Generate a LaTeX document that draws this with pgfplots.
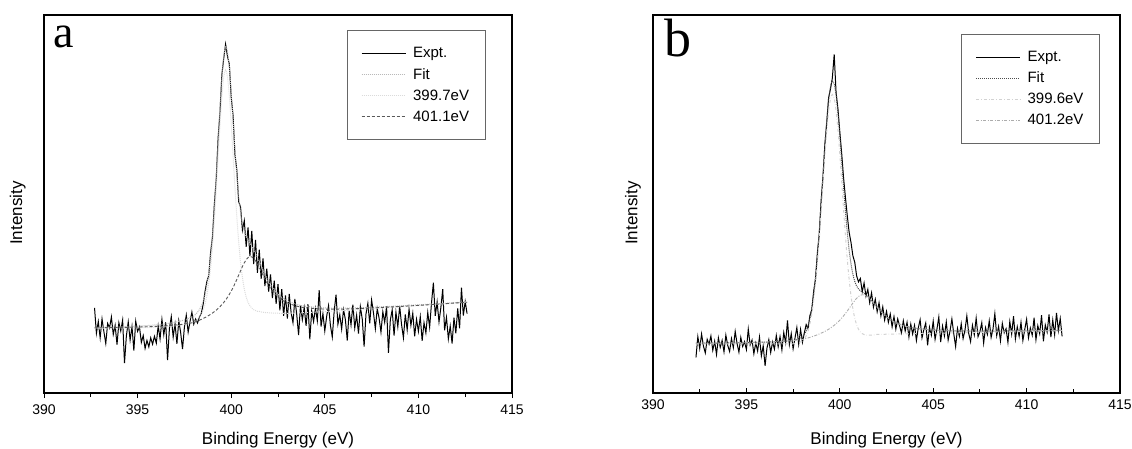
\documentclass[border=0pt]{standalone}
\usepackage{pgfplots}
\usepackage{pgfplotstable}
\pgfplotsset{compat=1.18}
\usepackage{fontspec}
\setmainfont{Liberation Sans}
\newfontfamily\letterfont{Liberation Serif}

% fitted curves, panel a: E, total fit, 399.7 eV component, 401.1 eV component
\pgfplotstableread{
E fit c1 c2
392.7 17.35 17.11 17.24
394.0 17.50 17.17 17.33
395.0 17.70 17.25 17.45
396.0 18.03 17.40 17.63
397.0 18.70 17.73 17.97
397.5 19.33 18.08 18.25
398.0 20.35 18.70 18.65
398.1 20.84 19.09 18.84
398.2 21.34 19.47 19.04
398.3 22.05 20.06 19.25
398.4 22.97 20.84 19.47
398.5 24.21 21.93 19.71
398.6 25.95 23.51 19.95
398.7 28.42 25.80 20.22
398.8 31.82 28.99 20.52
398.9 36.22 33.17 20.82
399.0 42.06 38.76 21.16
399.1 49.22 45.64 21.52
399.2 57.52 53.63 21.92
399.3 66.45 62.21 22.35
399.4 75.43 70.80 22.83
399.5 83.37 78.29 23.37
399.6 89.04 83.47 23.94
399.7 91.59 85.46 24.59
399.8 90.40 83.64 25.30
399.9 86.10 78.63 26.10
400.0 79.56 71.31 26.96
400.1 72.02 62.90 27.92
400.2 64.55 54.49 28.95
400.3 57.74 46.67 30.04
400.4 52.09 39.96 31.19
400.5 47.74 34.54 32.34
400.6 44.75 30.53 33.45
400.7 42.65 27.51 34.45
400.8 41.27 25.40 35.27
400.9 40.33 23.99 35.83
401.0 39.57 23.07 36.07
401.1 38.80 22.46 36.00
401.2 37.91 22.04 35.61
401.3 36.97 21.83 34.97
401.4 35.83 21.61 34.13
401.5 34.80 21.60 33.20
401.6 33.57 21.44 32.17
401.7 32.44 21.37 31.14
401.8 31.37 21.31 30.17
401.9 30.36 21.24 29.26
402.0 29.48 21.23 28.43
402.2 27.91 21.15 27.01
402.4 26.69 21.12 25.89
402.6 25.72 21.09 25.02
402.8 24.95 21.06 24.35
403.0 24.38 21.08 23.83
403.5 23.43 21.15 22.98
404.0 22.93 21.28 22.53
405.0 22.50 21.53 22.20
406.0 22.46 21.83 22.21
407.0 22.58 22.13 22.38
408.0 22.81 22.48 22.61
409.0 23.04 22.78 22.89
410.0 23.33 23.13 23.18
411.0 23.60 23.43 23.50
412.6 24.11 23.99 24.01
}\fita

% fitted curves, panel b: E, total fit, 399.6 eV component, 401.2 eV component
\pgfplotstableread{
E fit c1 c2
392.3 13.17 13.00 13.17
394.0 13.25 13.00 13.25
396.0 13.47 13.00 13.47
397.0 13.71 13.00 13.71
397.5 13.89 13.00 13.89
398.0 14.86 13.70 14.16
398.1 15.49 14.26 14.29
398.2 16.43 15.13 14.43
398.3 17.82 16.44 14.57
398.4 19.79 18.32 14.72
398.5 22.48 20.91 14.88
398.6 26.10 24.43 15.05
398.7 30.69 28.91 15.22
398.8 36.28 34.37 15.41
398.9 42.85 40.80 15.61
399.0 50.15 47.95 15.83
399.1 57.79 55.42 16.06
399.2 65.25 62.70 16.30
399.3 71.95 69.19 16.57
399.4 77.45 74.46 16.87
399.5 81.01 77.77 17.18
399.6 82.53 79.00 17.53
399.7 81.74 77.89 17.91
399.8 78.91 74.71 18.33
399.9 74.15 69.57 18.77
400.0 68.22 63.20 19.27
400.1 61.54 56.04 19.81
400.2 54.72 48.70 20.40
400.3 48.27 41.68 21.03
400.4 42.56 35.37 21.69
400.5 37.86 30.03 22.39
400.6 34.16 25.68 23.11
400.7 31.40 22.29 23.80
400.8 29.54 19.82 24.47
400.9 28.30 18.06 25.05
401.0 27.53 16.88 25.53
401.1 27.05 16.14 25.85
401.2 26.70 15.70 26.00
401.3 26.36 15.45 25.97
401.4 25.99 15.34 25.78
401.5 25.53 15.29 25.43
401.6 25.02 15.30 24.97
401.7 24.42 15.31 24.42
401.8 23.86 15.38 23.86
401.9 23.27 15.44 23.27
402.0 22.69 15.50 22.69
402.2 21.54 15.52 21.54
402.4 20.56 15.54 20.56
402.6 19.76 15.56 19.76
402.8 19.11 15.58 19.11
403.0 18.59 15.60 18.59
403.5 17.70 15.65 17.70
404.0 17.17 15.70 17.17
405.0 16.65 15.80 16.65
406.0 16.45 15.90 16.45
408.0 16.38 16.10 16.38
410.0 16.47 16.30 16.47
411.9 16.61 16.49 16.61
}\fitb

\pgfplotsset{
  xps/.style={
    scale only axis, width=468pt, height=378pt,
    xmin=390, xmax=415, ymin=0, ymax=100,
    xtick={390,395,...,415}, minor x tick num=1,
    ytick=\empty, xtick pos=bottom,
    axis line style={line width=1.3pt},
    major tick length=5pt, minor tick length=4pt,
    every tick/.style={black, line width=1pt},
    /pgf/number format/assume math mode=true,
    xticklabel style={font=\fontsize{14}{16}\selectfont, yshift=-3pt},
    xlabel={Binding Energy (eV)},
    ylabel={Intensity},
    label style={font=\fontsize{17}{19}\selectfont},
    xlabel style={at={(axis description cs:0.5,-0.124)}, anchor=center},
    legend cell align=left,
    legend image code/.code={\draw[##1] (0pt,0pt) -- (44pt,0pt);},
    legend style={font=\fontsize{15}{17}\selectfont, draw=black!60,
      line width=0.7pt, anchor=north west, inner xsep=14pt, inner ysep=15pt,
      row sep=5pt, /tikz/every odd column/.append style={column sep=5pt}},
  },
}

\begin{document}
\begin{tikzpicture}
\useasboundingbox (0,0) rectangle (1132pt,448pt);

% ---- panel a ----
\begin{axis}[xps, at={(44pt,55pt)}, anchor=south west,
  tick align=outside,
  ylabel style={at={(axis description cs:-0.056,0.476)}, anchor=center},
  legend style={at={(0.647,0.960)}},
]
\addplot[black, line width=1pt] table[row sep=\\] {x y\\
392.7 22.5\\ 392.8 15.8\\ 392.9 18.9\\ 393.0 14.6\\ 393.1 19.6\\ 393.2 16.2\\ 393.3 13.1\\ 393.4 18.4\\ 393.5 17.2\\ 393.6 20.1\\
393.7 15.5\\ 393.8 17.9\\ 393.9 12.8\\ 394.0 18.6\\ 394.1 16.4\\ 394.2 19.3\\ 394.3 7.9\\ 394.4 15.1\\ 394.5 18.8\\ 394.6 14.0\\
394.7 17.6\\ 394.8 11.2\\ 394.9 19.0\\ 395.0 16.3\\ 395.1 17.5\\ 395.2 13.4\\ 395.3 15.2\\ 395.4 11.8\\ 395.5 13.9\\ 395.6 12.2\\
395.7 14.6\\ 395.8 12.9\\ 395.9 15.0\\ 396.0 13.2\\ 396.1 17.8\\ 396.2 14.3\\ 396.3 19.5\\ 396.4 15.4\\ 396.5 18.7\\ 396.6 8.7\\
396.7 17.1\\ 396.8 20.2\\ 396.9 14.8\\ 397.0 18.3\\ 397.1 13.0\\ 397.2 19.1\\ 397.3 16.0\\ 397.4 11.6\\ 397.5 17.4\\ 397.6 20.6\\
397.7 16.1\\ 397.8 18.9\\ 397.9 21.4\\ 398.0 18.2\\ 398.1 19.6\\ 398.2 18.5\\ 398.3 20.1\\ 398.4 21.0\\ 398.5 23.4\\ 398.6 26.8\\
398.7 29.5\\ 398.8 31.0\\ 398.9 37.2\\ 399.0 41.3\\ 399.1 49.9\\ 399.2 56.6\\ 399.3 67.4\\ 399.4 74.2\\ 399.5 84.1\\ 399.6 88.5\\
399.7 92.3\\ 399.8 89.1\\ 399.9 87.0\\ 400.0 78.3\\ 400.1 73.4\\ 400.2 63.1\\ 400.3 59.0\\ 400.4 50.6\\ 400.5 49.2\\ 400.6 43.1\\
400.7 45.6\\ 400.8 38.7\\ 400.9 43.8\\ 401.0 36.2\\ 401.1 42.9\\ 401.2 34.1\\ 401.3 40.5\\ 401.4 31.8\\ 401.5 37.9\\ 401.6 30.2\\
401.7 35.6\\ 401.8 28.3\\ 401.9 32.9\\ 402.0 26.8\\ 402.1 31.4\\ 402.2 25.1\\ 402.3 29.7\\ 402.4 23.6\\ 402.5 28.8\\ 402.6 21.9\\
402.7 27.5\\ 402.8 20.4\\ 402.9 25.8\\ 403.0 19.7\\ 403.1 26.2\\ 403.2 21.3\\ 403.3 18.6\\ 403.4 24.9\\ 403.5 20.8\\ 403.6 15.3\\
403.7 23.1\\ 403.8 19.4\\ 403.9 22.6\\ 404.0 17.8\\ 404.1 23.5\\ 404.2 14.2\\ 404.3 21.7\\ 404.4 18.9\\ 404.5 22.4\\ 404.6 19.1\\
404.7 27.2\\ 404.8 17.6\\ 404.9 21.0\\ 405.0 16.4\\ 405.1 20.3\\ 405.2 23.1\\ 405.3 17.9\\ 405.4 14.8\\ 405.5 21.6\\ 405.6 26.0\\
405.7 18.2\\ 405.8 20.7\\ 405.9 16.9\\ 406.0 22.1\\ 406.1 19.4\\ 406.2 13.9\\ 406.3 21.8\\ 406.4 18.0\\ 406.5 23.4\\ 406.6 17.2\\
406.7 20.6\\ 406.8 15.7\\ 406.9 22.8\\ 407.0 19.6\\ 407.1 12.3\\ 407.2 20.9\\ 407.3 23.7\\ 407.4 18.4\\ 407.5 24.6\\ 407.6 21.2\\
407.7 17.0\\ 407.8 22.3\\ 407.9 19.8\\ 408.0 16.1\\ 408.1 21.5\\ 408.2 18.7\\ 408.3 22.9\\ 408.4 10.6\\ 408.5 19.3\\ 408.6 22.0\\
408.7 15.2\\ 408.8 21.4\\ 408.9 17.5\\ 409.0 23.0\\ 409.1 18.1\\ 409.2 14.6\\ 409.3 20.8\\ 409.4 16.7\\ 409.5 22.2\\ 409.6 17.9\\
409.7 21.1\\ 409.8 15.0\\ 409.9 19.5\\ 410.0 16.3\\ 410.1 20.2\\ 410.2 13.8\\ 410.3 18.6\\ 410.4 15.9\\ 410.5 21.3\\ 410.6 17.4\\
410.7 23.8\\ 410.8 29.2\\ 410.9 20.4\\ 411.0 24.1\\ 411.1 18.8\\ 411.2 22.6\\ 411.3 27.5\\ 411.4 16.6\\ 411.5 20.0\\ 411.6 14.3\\
411.7 17.7\\ 411.8 13.1\\ 411.9 19.9\\ 412.0 15.8\\ 412.1 22.4\\ 412.2 17.1\\ 412.3 27.9\\ 412.4 20.5\\ 412.5 24.2\\ 412.6 21.0\\
};
\addlegendentry{Expt.}
\addplot[gray!55, densely dotted, line width=1pt, smooth] table[x=E, y=fit] {\fita};
\addlegendentry{Fit}
\addplot[gray!28, densely dotted, line width=1pt, smooth] table[x=E, y=c1] {\fita};
\addlegendentry{399.7eV}
\addplot[black!65, dash pattern=on 3pt off 2pt, line width=0.9pt, smooth] table[x=E, y=c2] {\fita};
\addlegendentry{401.1eV}
\node[anchor=base west, inner sep=0pt, font=\letterfont\fontsize{46}{46}\selectfont]
  at (rel axis cs:0.019,0.913) {a};
\end{axis}

% ---- panel b ----
\begin{axis}[xps, at={(653pt,55pt)}, anchor=south west, width=467pt,
  tick align=inside,
  ylabel style={at={(axis description cs:-0.043,0.476)}, anchor=center},
  legend style={at={(0.66,0.950)}},
]
\addplot[black, line width=1pt] table[row sep=\\] {x y\\
392.3 9.4\\ 392.4 14.9\\ 392.5 11.8\\ 392.6 15.6\\ 392.7 12.4\\ 392.8 10.6\\ 392.9 14.2\\ 393.0 12.9\\ 393.1 15.1\\ 393.2 11.3\\
393.3 13.7\\ 393.4 10.2\\ 393.5 14.6\\ 393.6 12.1\\ 393.7 13.9\\ 393.8 10.9\\ 393.9 15.3\\ 394.0 12.6\\ 394.1 11.0\\ 394.2 14.4\\
394.3 12.0\\ 394.4 16.3\\ 394.5 13.1\\ 394.6 10.8\\ 394.7 14.7\\ 394.8 12.3\\ 394.9 13.6\\ 395.0 11.5\\ 395.1 16.9\\ 395.2 12.7\\
395.3 14.0\\ 395.4 10.4\\ 395.5 13.2\\ 395.6 11.1\\ 395.7 14.8\\ 395.8 9.8\\ 395.9 12.5\\ 396.0 7.2\\ 396.1 11.9\\ 396.2 14.1\\
396.3 10.7\\ 396.4 13.5\\ 396.5 11.6\\ 396.6 15.2\\ 396.7 12.2\\ 396.8 14.9\\ 396.9 11.4\\ 397.0 16.0\\ 397.1 13.3\\ 397.2 19.2\\
397.3 12.8\\ 397.4 15.7\\ 397.5 11.7\\ 397.6 14.5\\ 397.7 17.3\\ 397.8 12.9\\ 397.9 16.8\\ 398.0 13.4\\ 398.1 15.9\\ 398.2 18.1\\
398.3 17.0\\ 398.4 20.5\\ 398.5 22.0\\ 398.6 26.9\\ 398.7 30.2\\ 398.8 37.1\\ 398.9 42.0\\ 399.0 50.9\\ 399.1 57.2\\ 399.2 65.8\\
399.3 71.4\\ 399.4 78.1\\ 399.5 80.4\\ 399.6 83.3\\ 399.7 89.6\\ 399.8 79.5\\ 399.9 75.2\\ 400.0 69.1\\ 400.1 63.4\\ 400.2 57.0\\
400.3 51.8\\ 400.4 46.9\\ 400.5 42.5\\ 400.6 39.8\\ 400.7 36.3\\ 400.8 34.6\\ 400.9 31.0\\ 401.0 29.4\\ 401.1 30.3\\ 401.2 26.8\\
401.3 29.1\\ 401.4 25.6\\ 401.5 27.4\\ 401.6 23.9\\ 401.7 26.5\\ 401.8 22.7\\ 401.9 24.8\\ 402.0 21.5\\ 402.1 23.9\\ 402.2 20.4\\
402.3 22.8\\ 402.4 19.3\\ 402.5 21.6\\ 402.6 18.7\\ 402.7 20.9\\ 402.8 17.5\\ 402.9 20.2\\ 403.0 16.9\\ 403.1 19.6\\ 403.2 17.8\\
403.3 15.9\\ 403.4 19.1\\ 403.5 16.4\\ 403.6 18.7\\ 403.7 14.8\\ 403.8 18.2\\ 403.9 15.6\\ 404.0 17.9\\ 404.1 13.9\\ 404.2 17.2\\
404.3 19.4\\ 404.4 14.6\\ 404.5 16.8\\ 404.6 18.5\\ 404.7 12.6\\ 404.8 17.4\\ 404.9 15.3\\ 405.0 19.0\\ 405.1 14.2\\ 405.2 16.9\\
405.3 20.1\\ 405.4 13.5\\ 405.5 17.7\\ 405.6 15.1\\ 405.7 18.8\\ 405.8 14.0\\ 405.9 16.4\\ 406.0 19.6\\ 406.1 15.7\\ 406.2 12.3\\
406.3 17.1\\ 406.4 15.0\\ 406.5 18.3\\ 406.6 14.4\\ 406.7 16.6\\ 406.8 20.4\\ 406.9 15.8\\ 407.0 13.6\\ 407.1 17.9\\ 407.2 15.4\\
407.3 19.8\\ 407.4 14.9\\ 407.5 16.2\\ 407.6 18.6\\ 407.7 13.2\\ 407.8 17.3\\ 407.9 15.5\\ 408.0 19.1\\ 408.1 14.7\\ 408.2 16.9\\
408.3 21.0\\ 408.4 15.2\\ 408.5 17.6\\ 408.6 13.8\\ 408.7 18.4\\ 408.8 15.9\\ 408.9 17.0\\ 409.0 13.4\\ 409.1 18.9\\ 409.2 15.6\\
409.3 20.3\\ 409.4 14.3\\ 409.5 17.5\\ 409.6 15.0\\ 409.7 18.7\\ 409.8 13.9\\ 409.9 16.8\\ 410.0 19.5\\ 410.1 14.6\\ 410.2 17.2\\
410.3 15.3\\ 410.4 19.9\\ 410.5 14.1\\ 410.6 17.8\\ 410.7 15.7\\ 410.8 20.6\\ 410.9 13.7\\ 411.0 18.0\\ 411.1 16.1\\ 411.2 20.8\\
411.3 14.8\\ 411.4 19.3\\ 411.5 15.4\\ 411.6 21.2\\ 411.7 16.5\\ 411.8 19.7\\ 411.9 15.0\\
};
\addlegendentry{Expt.}
\addplot[black!70, densely dotted, line width=1pt, smooth] table[x=E, y=fit] {\fitb};
\addlegendentry{Fit}
\addplot[gray!35, dash dot, line width=1pt, smooth] table[x=E, y=c1] {\fitb};
\addlegendentry{399.6eV}
\addplot[gray!65, dash pattern=on 3pt off 1.5pt on 1pt off 1.5pt, line width=0.9pt, smooth] table[x=E, y=c2] {\fitb};
\addlegendentry{401.2eV}
\node[anchor=base west, inner sep=0pt, font=\letterfont\fontsize{54}{54}\selectfont]
  at (rel axis cs:0.025,0.889) {b};
\end{axis}
\end{tikzpicture}
\end{document}
